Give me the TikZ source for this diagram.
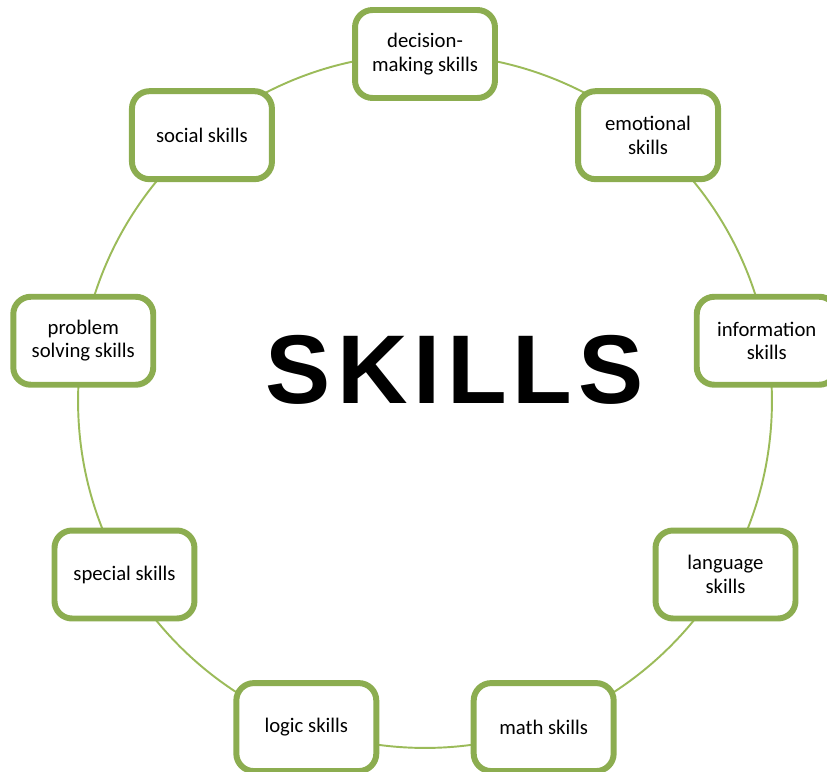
\documentclass[tikz,border=0pt]{standalone}
\usepackage{fontspec}
\setmainfont{Carlito}
\newfontfamily\titlefont[LetterSpace=6.3]{Liberation Sans}
\definecolor{boxgreen}{HTML}{8CAD50}
\definecolor{ringgreen}{HTML}{9BBB59}

\begin{document}
\begin{tikzpicture}[x=0.02cm,y=0.02cm,
	skillbox/.style={draw=boxgreen,line width=3.4pt,fill=white,
		rounded corners=0.35cm,minimum width=2.8cm,minimum height=1.76cm,
		inner sep=2pt,align=center,font=\fontsize{11.8}{13.4}\selectfont}]
			\useasboundingbox (-425,-370) rectangle (402,401);
			\draw[ringgreen,line width=1.1pt] (0,0) circle (6.94cm);
			\foreach \ang/\name/\txt in {90/decision/{decision-\\making skills},
				50/emotional/{emotional\\skills},
				10/information/{information\\skills},
				-30/language/{language\\skills},
				-70/math/{math skills},
				-110/logic/{logic skills},
				-150/special/{special skills},
				170/problem/{problem\\solving skills},
				130/social/{social skills}}
				\node[skillbox] (\name) at (\ang:347) {\txt};
			\node[font=\titlefont\fontsize{55.6}{60}\selectfont\bfseries] (title) at (30,31) {SKILLS};
			\end{tikzpicture}
\end{document}
